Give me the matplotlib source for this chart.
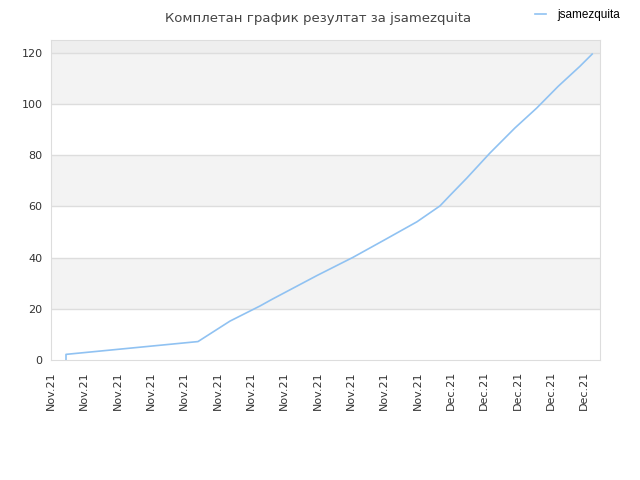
import matplotlib
matplotlib.use("Agg")
import matplotlib.pyplot as plt
import matplotlib.dates as mdates
import numpy as np
from datetime import datetime, timedelta

# results: days after start date, cumulative score
start = datetime(2021, 11, 8)
days = [0.90, 0.90, 8.82, 10.74, 12.54, 13.26, 15.96, 18.12, 19.98, 21.96,
        23.34, 23.94, 24.94, 26.33, 27.83, 29.14, 30.43, 31.73, 32.47]
score = [0.0, 2.2, 7.2, 15.2, 21.1, 23.7, 33.0, 40.1, 46.8, 54.0,
         60.2, 64.3, 71.0, 80.8, 90.6, 98.4, 106.9, 114.7, 119.5]
player = "jsamezquita"
title = "Комплетан график резултат за jsamezquita"
ymax = 125
band_edges = [20, 40, 60, 80, 100, 120]

def _main():
    dates = [start + timedelta(days=d) for d in days]
    fig = plt.figure(figsize=(6.4, 4.8), dpi=100)
    ax = fig.add_axes([51/640, 120/480, 549/640, 320/480])

    # alternating background bands
    for i in range(0, len(band_edges) - 1, 2):
        ax.axhspan(band_edges[i], band_edges[i+1], color="#f3f3f3", zorder=0, lw=0)
    ax.axhspan(band_edges[-1], ymax, color="#eeeeee", zorder=0, lw=0)
    for y in band_edges:
        ax.axhline(y, color="#dddddd", lw=1, zorder=1)

    ax.plot(dates, score, color="#90c2f2", lw=1.2, zorder=2, label=player)

    ax.set_ylim(0, ymax)
    ax.set_xlim(start, start + timedelta(days=32.94))
    ax.set_yticks([0, 20, 40, 60, 80, 100, 120])
    ax.xaxis.set_major_locator(mdates.DayLocator(interval=2, bymonthday=range(2, 32, 2)))
    ax.xaxis.set_major_formatter(mdates.DateFormatter("%b.%y"))
    ax.tick_params(axis="both", length=0, labelsize=8, colors="#333333", pad=6)
    ax.tick_params(axis="x", labelrotation=90, pad=8)
    for s in ax.spines.values():
        s.set_color("#dddddd")

    fig.text(0.497, 0.975, title, ha="center", va="top", fontsize=9.5, color="#444444")
    fig.legend(loc="upper right", bbox_to_anchor=(0.985, 1.004), frameon=False,
               prop={"family": "Liberation Sans", "size": 8.5},
               handlelength=1.0, handletextpad=0.9)
    fig.savefig("out.png", dpi=100)

if __name__ == '__main__':
    _main()
